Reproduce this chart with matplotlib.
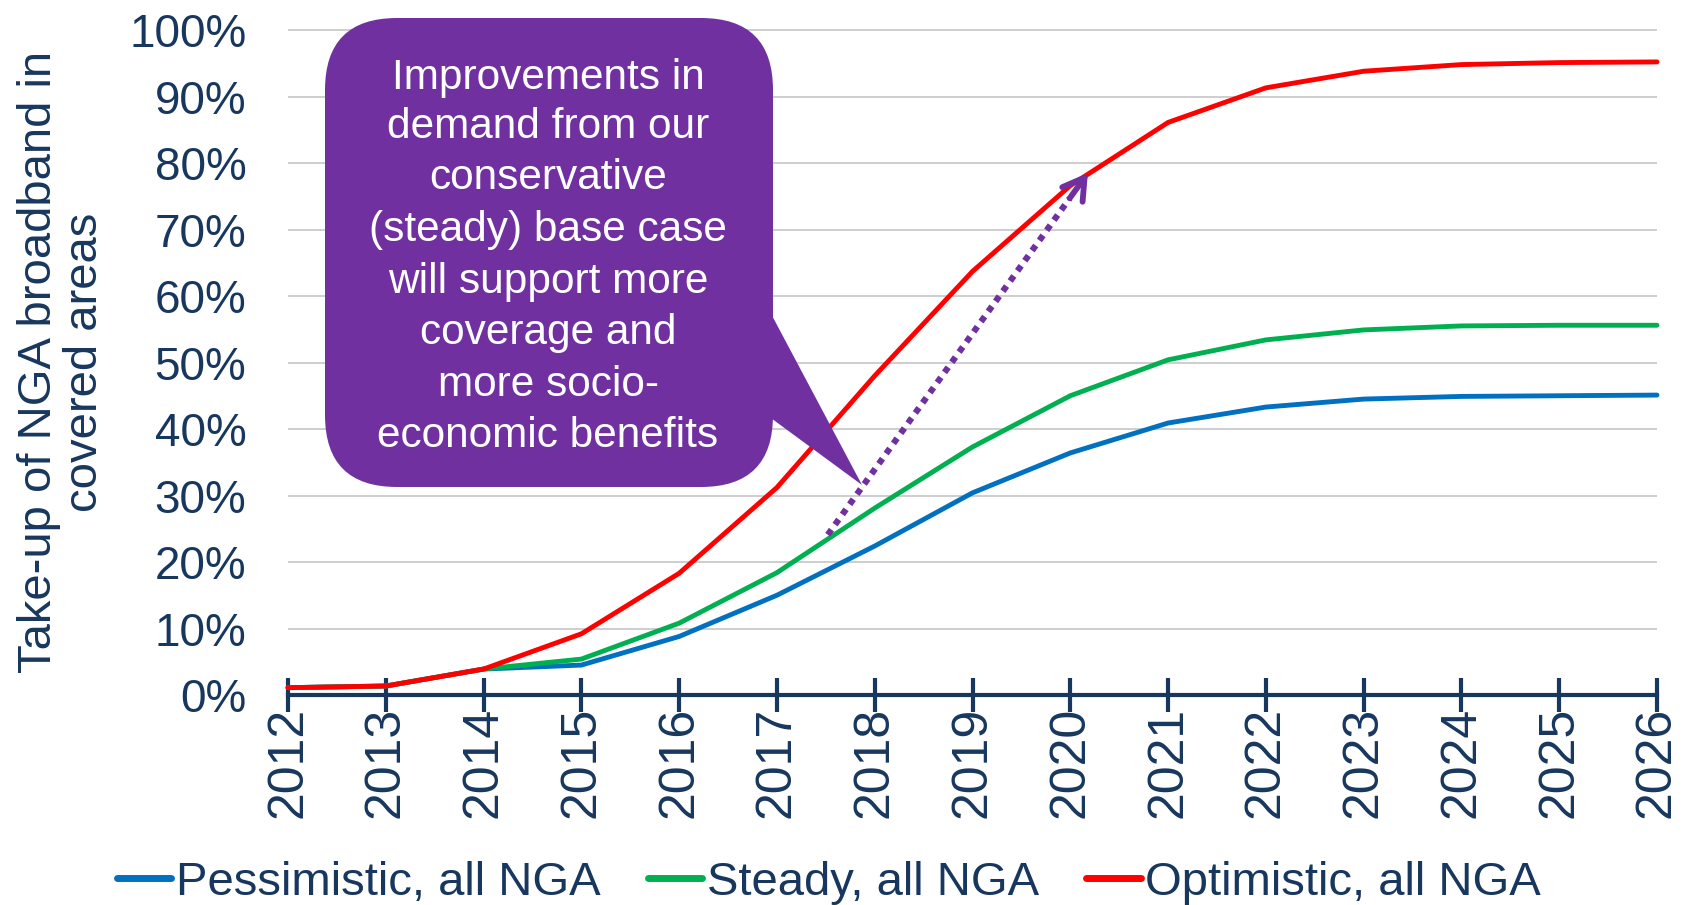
import matplotlib
matplotlib.use("Agg")
import matplotlib.pyplot as plt
from matplotlib.patches import FancyBboxPatch, Polygon
from matplotlib.transforms import Affine2D
from matplotlib.ticker import FuncFormatter

plt.rcParams['font.family'] = ['Liberation Sans', 'DejaVu Sans']

years = list(range(2012, 2027))
pessimistic = [0.011, 0.0135, 0.039, 0.045, 0.088, 0.150, 0.224, 0.304, 0.364, 0.409, 0.433, 0.445, 0.449, 0.450, 0.451]
steady = [0.011, 0.0135, 0.039, 0.054, 0.108, 0.184, 0.281, 0.373, 0.450, 0.504, 0.534, 0.549, 0.555, 0.556, 0.556]
optimistic = [0.011, 0.0135, 0.039, 0.092, 0.183, 0.312, 0.480, 0.637, 0.766, 0.861, 0.913, 0.938, 0.948, 0.951, 0.952]
series_labels = ["Pessimistic, all NGA", "Steady, all NGA", "Optimistic, all NGA"]
series_colors = ["#0070C0", "#00B050", "#FF0000"]
y_ticks = [0.0, 0.1, 0.2, 0.3, 0.4, 0.5, 0.6, 0.7, 0.8, 0.9, 1.0]
y_title = "Take-up of NGA broadband in\ncovered areas"
callout_lines = ["Improvements in", "demand from our", "conservative",
                 "(steady) base case", "will support more", "coverage and",
                 "more socio-", "economic benefits"]
arrow_start = (2017.52, 0.241)
arrow_end = (2020.18, 0.785)

NAVY = "#17375E"
PURPLE = "#7030A0"
W, H = 1692, 905

fig = plt.figure(figsize=(W / 100, H / 100), dpi=100)
ax = fig.add_axes([288 / W, (H - 695) / H, (1657 - 288) / W, (695 - 16.7) / H])

for vals, lab, col in zip([pessimistic, steady, optimistic], series_labels, series_colors):
    ax.plot(years, vals, color=col, lw=3.5, label=lab, solid_capstyle='round',
            solid_joinstyle='round', clip_on=False, zorder=3)

ax.set_xlim(2012, 2026)
ax.set_ylim(0, 1.02)
ax.set_xticks(years)
ax.set_yticks(y_ticks)
ax.yaxis.set_major_formatter(FuncFormatter(lambda v, p: f"{v * 100:.0f}%"))
ax.set_xticklabels([str(y) for y in years], rotation=90, fontsize=36, color=NAVY)

for s in ['top', 'right', 'left']:
    ax.spines[s].set_visible(False)
ax.spines['bottom'].set_color(NAVY)
ax.spines['bottom'].set_linewidth(3.0)
ax.spines['bottom'].set_zorder(2)

ax.grid(axis='y', color='#C6C6C6', lw=1.2, zorder=0)
ax.set_axisbelow(True)
ax.tick_params(axis='y', length=0, labelsize=33, labelcolor=NAVY, pad=30)
ax.tick_params(axis='x', direction='inout', length=24, width=3, color=NAVY, pad=-3.5)

# pixel-based transform (origin at top-left) for free-standing elements
px = Affine2D().scale(1 / W, -1 / H).translate(0, 1) + fig.transFigure

fig.text(62, 362, y_title, transform=px, rotation=90, ha='center', va='center',
         multialignment='center', fontsize=34, color=NAVY, linespacing=1.06)

leg = fig.legend(loc='center', bbox_to_anchor=(0.49, (H - 883) / H), ncol=3, frameon=False,
                 fontsize=34, handlelength=1.15, handletextpad=0.1, columnspacing=1.0,
                 borderaxespad=0)
for t in leg.get_texts():
    t.set_color(NAVY)
for hl in leg.legend_handles:
    hl.set_linewidth(5)

bubble = FancyBboxPatch((325, 18), 773 - 325, 487 - 18,
                        boxstyle="round,pad=0,rounding_size=72",
                        transform=px, facecolor=PURPLE, edgecolor='none', zorder=5)
fig.add_artist(bubble)
pointer = Polygon([(760, 293), (862, 485), (760, 410)], closed=True,
                  transform=px, facecolor=PURPLE, edgecolor='none', zorder=5)
fig.add_artist(pointer)

line_y = [77.7, 127.3, 178.1, 229.8, 281.6, 333.4, 385.2, 436.0]
for txt, yy in zip(callout_lines, line_y):
    fig.text(548, yy, txt, transform=px, ha='center', va='center', fontsize=30.5,
             color='white', zorder=6)

# dotted shaft plus open arrowhead
t = 0.93
shaft_end = (arrow_start[0] + t * (arrow_end[0] - arrow_start[0]),
             arrow_start[1] + t * (arrow_end[1] - arrow_start[1]))
ax.plot([arrow_start[0], shaft_end[0]], [arrow_start[1], shaft_end[1]],
        color=PURPLE, lw=4.5, linestyle=(0, (1, 1)), dash_capstyle='butt',
        zorder=7, clip_on=False)
ax.annotate("", xy=arrow_end, xytext=shaft_end,
            arrowprops=dict(arrowstyle="->,head_length=1.5,head_width=0.9",
                            color=PURPLE, lw=4.2, shrinkA=0, shrinkB=0,
                            capstyle='round', joinstyle='round'),
            zorder=7, annotation_clip=False)

fig.savefig("out.png", dpi=100)
